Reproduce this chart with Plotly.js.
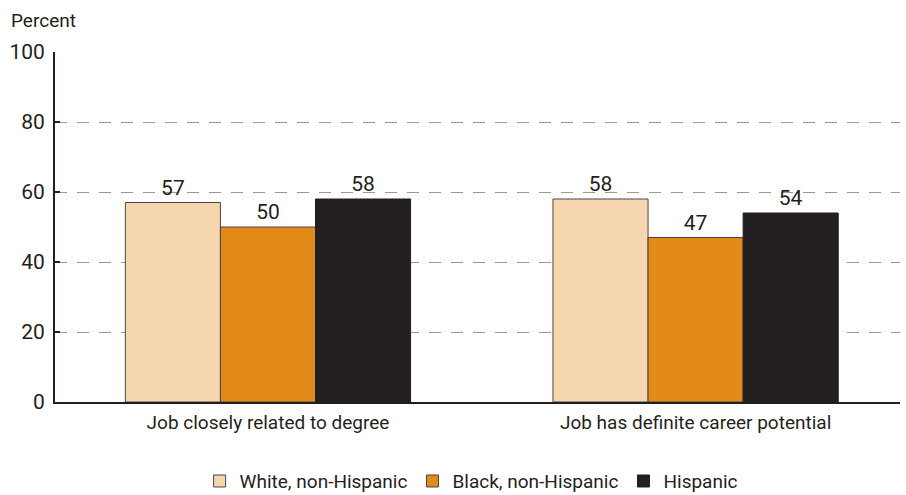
<!DOCTYPE html>
<html>
<head>
<meta charset="utf-8">
<script src="https://cdn.plot.ly/plotly-3.0.1.min.js"></script>
<style>
  html, body { margin: 0; padding: 0; background: #fff; }
  #chart { width: 906px; height: 495px; }
</style>
</head>
<body>
<div id="chart"></div>
<script>
// Share of graduates, by race/ethnicity
const categories = ["Job closely related to degree", "Job has definite career potential"];
const seriesNames = ["White, non-Hispanic", "Black, non-Hispanic", "Hispanic"];
const whiteValues = [57, 58];
const blackValues = [50, 47];
const hispanicValues = [58, 54];
const yTicks = [0, 20, 40, 60, 80, 100];

const FONT = 'Roboto, "Liberation Sans", sans-serif';
const INK = '#231F20';
const fills = ['#F6D6AF', '#E28B1A', '#231F20'];
const edges = ['#4a4443', '#4a4443', '#231F20'];
const allValues = [whiteValues, blackValues, hispanicValues];

const traces = allValues.map((vals, i) => ({
  type: 'bar',
  name: seriesNames[i],
  x: categories,
  y: vals,
  text: vals.map(String),
  textposition: 'outside',
  textfont: { family: FONT, size: 21, color: INK },
  cliponaxis: false,
  marker: { color: fills[i], line: { color: edges[i], width: 1 } },
  hoverinfo: 'skip'
}));

const layout = {
  width: 906,
  height: 495,
  margin: { l: 55, r: 6, t: 52, b: 93 },
  paper_bgcolor: '#fff',
  plot_bgcolor: '#fff',
  font: { family: FONT, color: INK, size: 18 },
  barmode: 'group',
  bargap: 0.333,
  bargroupgap: 0,
  showlegend: true,
  legend: {
    orientation: 'h',
    xref: 'container', yref: 'container',
    x: 0.52, xanchor: 'center',
    y: 0.028, yanchor: 'middle',
    font: { family: FONT, size: 19, color: INK },
    itemclick: false
  },
  xaxis: {
    type: 'category',
    range: [-0.498, 1.478],
    showline: true,
    linecolor: INK,
    linewidth: 2,
    showgrid: false,
    zeroline: false,
    ticks: '',
    tickfont: { family: FONT, size: 19, color: INK },
    ticklabelstandoff: 2
  },
  yaxis: {
    range: [0, 100],
    tickvals: yTicks,
    ticktext: yTicks.map(String),
    showline: true,
    linecolor: INK,
    linewidth: 2,
    ticks: 'inside',
    ticklen: 5,
    tickcolor: INK,
    tickwidth: 1.5,
    showgrid: true,
    gridcolor: '#9a9a9a',
    gridwidth: 1,
    griddash: '12px,10px',
    zeroline: false,
    tickfont: { family: FONT, size: 21, color: INK },
    ticklabelstandoff: 4
  },
  annotations: [{
    text: 'Percent',
    xref: 'paper', yref: 'paper',
    x: -0.054, y: 1.091,
    xanchor: 'left', yanchor: 'middle',
    showarrow: false,
    font: { family: FONT, size: 19, color: INK }
  }]
};

Plotly.newPlot('chart', traces, layout, { displayModeBar: false, staticPlot: true });
</script>
</body>
</html>
